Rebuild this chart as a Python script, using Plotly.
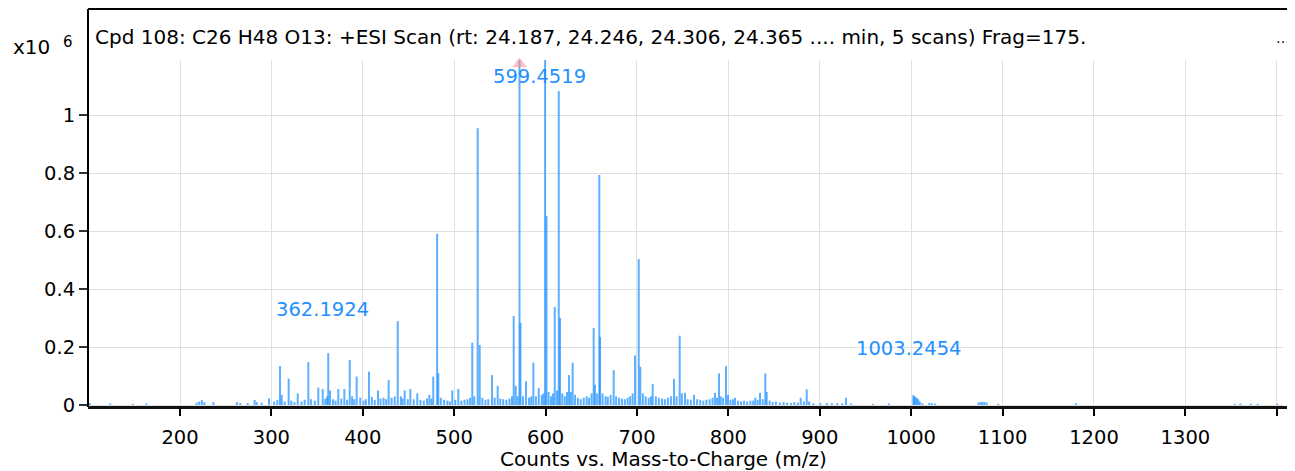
import plotly.graph_objects as go

# ---------------- data (intensity in counts x10^6) ----------------
peak_mz = [
    101.5, 123.6, 148.4, 163.1,
    218.1, 221.0, 223.9, 226.6, 236.5,
    262.2, 265.9, 274.1, 281.7, 284.0, 289.2, 297.4, 303.1, 306.5,
    309.4, 311.3, 314.5, 318.9, 321.8, 325.2, 328.8, 333.0, 336.4, 340.4,
    343.2, 347.5, 351.3, 356.1, 358.9, 361.0, 362.1924, 364.1, 367.4, 370.2,
    373.2, 376.5, 379.8, 382.8, 385.7, 388.3, 390.6, 393.3, 397.2, 400.8,
    403.3, 406.8, 409.9, 413.1, 416.6, 419.4, 422.7, 425.6, 428.3, 431.5,
    434.9, 438.2, 441.6, 443.4, 445.8, 449.2, 452.0, 455.7, 459.6, 463.1,
    466.8, 470.3, 472.8, 475.1, 477.1, 481.3, 482.6, 485.4, 488.9, 492.5,
    495.2, 497.9, 501.2, 504.5, 507.8, 511.3, 514.6, 517.4, 519.8, 522.0,
    525.7, 527.9, 530.8, 534.2, 537.3, 541.4, 544.3, 547.6, 550.4, 553.6,
    557.1, 560.5, 563.2, 565.1, 567.3, 569.4, 571.44, 572.5, 575.2, 578.6,
    581.9, 584.3, 586.6, 589.4, 592.5, 595.8, 597.6, 599.4519, 601.0, 603.3,
    605.9, 608.1, 610.0, 612.5, 614.4, 615.8, 618.3, 621.0, 623.4, 625.6,
    627.5, 629.6, 632.2, 635.3, 638.4, 641.7, 644.9, 647.5, 650.3, 652.6,
    654.0, 656.4, 658.8, 659.6, 662.3, 665.6, 668.0, 671.2, 674.5, 677.2,
    680.4, 683.5, 686.7, 689.8, 692.5, 695.2, 697.8, 701.9, 703.6, 706.4,
    709.5, 712.8, 715.3, 717.2, 720.6, 723.9, 727.4, 730.5, 733.8, 737.1,
    740.5, 743.3, 746.7, 749.1, 752.5, 755.4, 758.9, 762.4, 765.8, 769.2,
    772.6, 776.0, 779.5, 782.7, 785.3, 787.6, 789.7, 791.6, 794.2, 797.4,
    799.5, 802.3, 805.0, 807.2, 810.6, 813.8, 817.2, 820.5, 824.0, 827.1,
    829.4, 832.0, 834.6, 837.5, 840.4, 841.9, 845.1, 848.5, 852.0, 856.3,
    860.4, 864.2, 868.5, 872.2, 876.0, 879.1, 882.6, 885.7, 888.3, 893.0,
    900.5, 907.8, 913.2, 919.0, 924.5, 928.6, 934.4, 958.0, 975.6,
    1002.4, 1003.2454, 1004.6, 1006.1, 1007.7, 1009.4, 1012.3, 1019.8, 1022.5, 1026.0,
    1073.6, 1075.8, 1077.9, 1080.2, 1082.6, 1095.3, 1180.2,
    1354.0, 1360.2, 1371.5, 1379.0, 1400.5,
]
peak_int = [
    0.006, 0.005, 0.004, 0.005,
    0.008, 0.012, 0.017, 0.010, 0.010,
    0.010, 0.007, 0.007, 0.017, 0.010, 0.008, 0.023, 0.012, 0.017,
    0.134, 0.035, 0.012, 0.091, 0.015, 0.010, 0.040, 0.012, 0.018, 0.148,
    0.020, 0.015, 0.060, 0.055, 0.022, 0.030, 0.179, 0.050, 0.020, 0.015,
    0.055, 0.022, 0.055, 0.018, 0.155, 0.030, 0.020, 0.098, 0.025, 0.015,
    0.020, 0.115, 0.028, 0.018, 0.050, 0.022, 0.025, 0.020, 0.086, 0.025,
    0.030, 0.289, 0.030, 0.022, 0.050, 0.020, 0.055, 0.020, 0.040, 0.018,
    0.015, 0.022, 0.035, 0.022, 0.098, 0.590, 0.110, 0.025, 0.018, 0.015,
    0.012, 0.050, 0.018, 0.055, 0.015, 0.018, 0.020, 0.025, 0.215, 0.030,
    0.954, 0.207, 0.025, 0.018, 0.020, 0.103, 0.025, 0.066, 0.022, 0.020,
    0.018, 0.022, 0.030, 0.307, 0.066, 0.030, 1.200, 0.283, 0.030, 0.082,
    0.025, 0.030, 0.146, 0.030, 0.058, 0.035, 0.040, 1.200, 0.652, 0.045,
    0.030, 0.040, 0.338, 0.050, 1.083, 0.300, 0.040, 0.030, 0.045, 0.103,
    0.045, 0.146, 0.035, 0.025, 0.020, 0.025, 0.030, 0.025, 0.040, 0.265,
    0.070, 0.040, 0.793, 0.234, 0.040, 0.030, 0.028, 0.035, 0.120, 0.030,
    0.025, 0.022, 0.020, 0.025, 0.030, 0.040, 0.171, 0.503, 0.132, 0.040,
    0.030, 0.025, 0.030, 0.072, 0.030, 0.025, 0.022, 0.020, 0.025, 0.030,
    0.090, 0.030, 0.239, 0.040, 0.042, 0.020, 0.018, 0.035, 0.020, 0.018,
    0.015, 0.018, 0.020, 0.025, 0.042, 0.025, 0.109, 0.030, 0.025, 0.134,
    0.035, 0.018, 0.020, 0.025, 0.015, 0.012, 0.015, 0.012, 0.015, 0.015,
    0.025, 0.018, 0.042, 0.020, 0.109, 0.045, 0.015, 0.010, 0.012, 0.008,
    0.010, 0.008, 0.007, 0.010, 0.008, 0.025, 0.012, 0.054, 0.012, 0.006,
    0.006, 0.007, 0.006, 0.007, 0.006, 0.025, 0.005, 0.004, 0.005,
    0.034, 0.030, 0.028, 0.024, 0.020, 0.012, 0.006, 0.007, 0.006, 0.005,
    0.008, 0.010, 0.011, 0.010, 0.008, 0.004, 0.006,
    0.004, 0.005, 0.004, 0.004, 0.004,
]

label_mz = [599.4519, 362.1924, 1003.2454]
label_text = ["599.4519", "362.1924", "1003.2454"]
label_y = [1.132, 0.330, 0.195]

precursor_mz = [571.44]
precursor_y = [1.176]

x_tickvals = [200, 300, 400, 500, 600, 700, 800, 900, 1000, 1100, 1200, 1300, 1400]
x_ticktext = ["200", "300", "400", "500", "600", "700", "800", "900", "1000", "1100", "1200", "1300", ""]
y_tickvals = [0, 0.2, 0.4, 0.6, 0.8, 1.0]
y_ticktext = ["0", "0.2", "0.4", "0.6", "0.8", "1"]

title_text = ("Cpd 108: C26 H48 O13: +ESI Scan (rt: 24.187, 24.246, 24.306, 24.365 "
              ".... min, 5 scans) Frag=175.")

# ---------------- figure ----------------
FONT = "DejaVu Sans"
OFF = 8                       # the page body margin shifts the figure by 8 px
W, H = 1295 - OFF, 471 - OFF
PL, PR, PT, PB = 88, 1283, 60, 407   # plot-area edges in window pixels
L, R, T, B = PL - OFF, 1295 - PR, PT - OFF, 471 - PB
pw, ph = W - L - R, H - T - B

def px_x(X):
    return (X - PL) / pw

def px_y(Y):
    return (PB - Y) / ph

xs, ys = [], []
for m, v in zip(peak_mz, peak_int):
    xs += [m, m, None]
    ys += [0, v, None]

fig = go.Figure()
fig.add_trace(go.Scatter(
    x=xs, y=ys, mode="lines",
    line=dict(color="rgba(30,144,255,0.72)", width=2),
    hoverinfo="skip", showlegend=False,
))
fig.add_trace(go.Scatter(
    x=precursor_mz, y=precursor_y, mode="markers",
    marker=dict(symbol="triangle-up", size=13, color="rgba(255,140,150,0.55)"),
    hoverinfo="skip", showlegend=False, cliponaxis=False,
))

annotations = []
for m, t, yv in zip(label_mz, label_text, label_y):
    annotations.append(dict(
        x=m, y=yv, xref="x", yref="y", text=t, showarrow=False,
        xanchor="center", yanchor="middle", xshift=-6,
        font=dict(family=FONT, size=19.5, color="#1e90ff"),
    ))

annotations += [
    dict(x=px_x(93), y=px_y(37), xref="paper", yref="paper", text=title_text,
         showarrow=False, xanchor="left", yanchor="middle",
         font=dict(family=FONT, size=20, color="black")),
    dict(x=px_x(1291), y=px_y(38), xref="paper", yref="paper", text="…",
         showarrow=False, xanchor="right", yanchor="middle", borderpad=0,
         font=dict(family=FONT, size=14, color="black")),
    dict(x=px_x(11), y=px_y(47), xref="paper", yref="paper", text="x10",
         showarrow=False, xanchor="left", yanchor="middle",
         font=dict(family=FONT, size=20, color="black")),
    dict(x=px_x(68), y=px_y(42), xref="paper", yref="paper", text="6",
         showarrow=False, xanchor="center", yanchor="middle",
         font=dict(family=FONT, size=15, color="black")),
    dict(x=px_x(663), y=px_y(459), xref="paper", yref="paper",
         text="Counts vs. Mass-to-Charge (m/z)",
         showarrow=False, xanchor="center", yanchor="middle", borderpad=0,
         font=dict(family=FONT, size=20, color="black")),
]

shapes = [
    dict(type="line", xref="paper", yref="paper", x0=0, x1=0, y0=px_y(407), y1=px_y(9),
         line=dict(color="black", width=2)),
    dict(type="line", xref="paper", yref="paper", x0=0, x1=px_x(1296), y0=px_y(9), y1=px_y(9),
         line=dict(color="black", width=2)),
    dict(type="line", xref="paper", yref="paper", x0=0, x1=px_x(1296), y0=px_y(407.5), y1=px_y(407.5),
         line=dict(color="#111111", width=3)),
]

fig.update_layout(
    width=W, height=H,
    margin=dict(l=L, r=R, t=T, b=B, pad=0),
    paper_bgcolor="white", plot_bgcolor="white",
    font=dict(family=FONT, size=19.5, color="black"),
    showlegend=False,
    annotations=annotations,
    shapes=shapes,
)
fig.update_xaxes(
    range=[99.34, 1406.8], tickmode="array", tickvals=x_tickvals, ticktext=x_ticktext,
    showgrid=True, gridcolor="#e0e0e0", gridwidth=1, zeroline=False,
    showline=False, ticks="outside", ticklen=8, tickwidth=1.5, tickcolor="black",
    ticklabelstandoff=5,
    tickfont=dict(family=FONT, size=19.5, color="black"),
)
fig.update_yaxes(
    range=[-0.0069, 1.1897], tickmode="array", tickvals=y_tickvals, ticktext=y_ticktext,
    showgrid=True, gridcolor="#e0e0e0", gridwidth=1, zeroline=False,
    showline=False, ticks="outside", ticklen=8, tickwidth=1.5, tickcolor="#333333",
    tickfont=dict(family=FONT, size=19.5, color="black"),
)

fig.write_html("out.html")
